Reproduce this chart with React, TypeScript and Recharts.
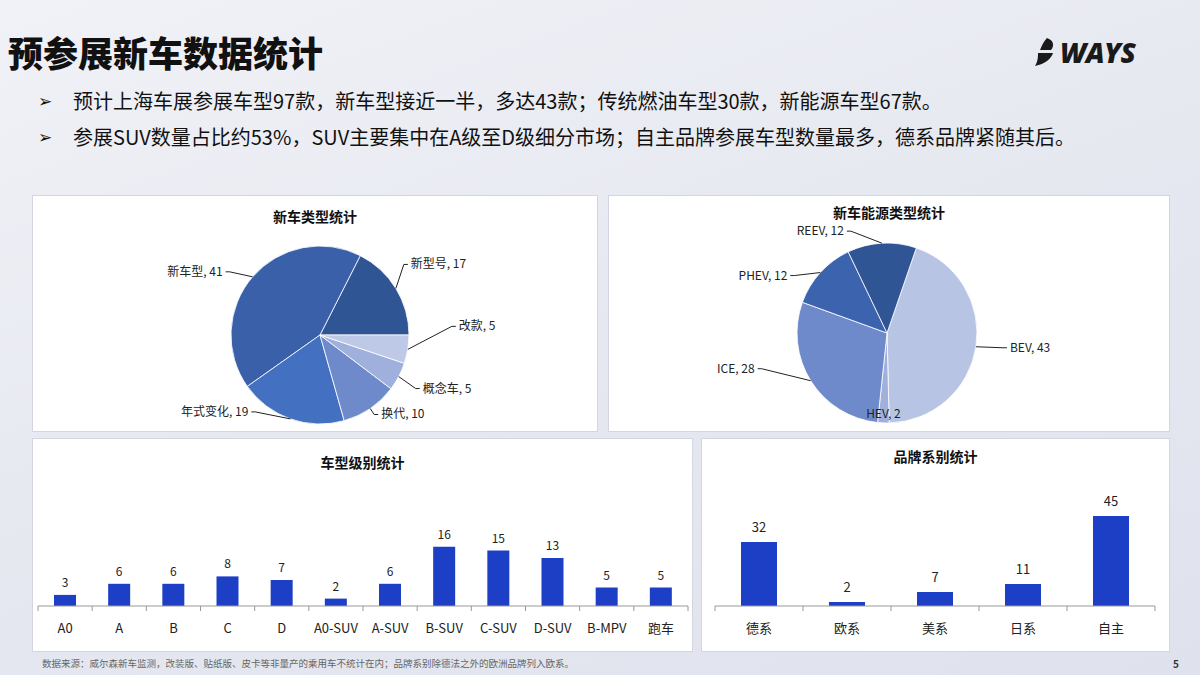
import React from 'react';
import { PieChart, Pie, Cell, BarChart, Bar, XAxis, YAxis, LabelList } from 'recharts';

// 新车类型
const typeNames = ['新型号', '新车型', '年式变化', '换代', '概念车', '改款'];
const typeValues = [17, 41, 19, 10, 5, 5];
// 能源类型
const energyNames = ['BEV', 'HEV', 'ICE', 'PHEV', 'REEV'];
const energyValues = [43, 2, 28, 12, 12];
// 车型级别
const levelNames = ['A0', 'A', 'B', 'C', 'D', 'A0-SUV', 'A-SUV', 'B-SUV', 'C-SUV', 'D-SUV', 'B-MPV', '跑车'];
const levelValues = [3, 6, 6, 8, 7, 2, 6, 16, 15, 13, 5, 5];
// 品牌系别
const brandNames = ['德系', '欧系', '美系', '日系', '自主'];
const brandValues = [32, 2, 7, 11, 45];

const typeColors = ['#2f5595', '#3a60a9', '#4470c2', '#6f8acb', '#9fb0dc', '#bec9e7'];
const energyColors = ['#b7c4e4', '#9fb0dc', '#6f8acb', '#3c63ae', '#2f5595'];
// label offsets from the arc midpoint (dx, dy); 0,0 = text inside, no leader
const typeLabelOff = [[8, -24], [-23, -5], [-35, -7], [4, 6], [17, 12], [44, -23]];
const energyLabelOff = [[27, 1], [0, 0], [-49, -12], [-26, 3], [-31, -12]];

const FONT = '"Noto Sans CJK SC", "Noto Sans", sans-serif';
const BAR = '#1c3fc6';
const RAD = Math.PI / 180;
const NO_MARGIN = { top: 0, right: 0, bottom: 0, left: 0 };

const typeData = typeNames.map((name, i) => ({ name, value: typeValues[i] }));
const energyData = energyNames.map((name, i) => ({ name, value: energyValues[i] }));
const levelData = levelNames.map((name, i) => ({ name, value: levelValues[i] }));
const brandData = brandNames.map((name, i) => ({ name, value: brandValues[i] }));

const makePieLabel = (offs: number[][]) => (p: any) => {
  const { cx, cy, midAngle, outerRadius, index, name, value } = p;
  const ax = cx + outerRadius * Math.cos(-midAngle * RAD);
  const ay = cy + outerRadius * Math.sin(-midAngle * RAD);
  const [dx, dy] = offs[index];
  const txt = `${name}, ${value}`;
  if (dx === 0 && dy === 0) {
    return (
      <text x={ax} y={ay - 5} textAnchor="middle" fontSize={12} fill="#222" fontFamily={FONT}>
        {txt}
      </text>
    );
  }
  const side = dx >= 0 ? 1 : -1;
  const ex = ax + dx;
  const ey = ay + dy;
  return (
    <g>
      <path d={`M${ax},${ay} L${ex},${ey} L${ex + side * 4},${ey}`} stroke="#222" strokeWidth={1} fill="none" />
      <text x={ex + side * 7} y={ey + 4} textAnchor={side > 0 ? 'start' : 'end'} fontSize={12} fill="#222" fontFamily={FONT}>
        {txt}
      </text>
    </g>
  );
};

const makeTick = (band: number, count: number) => (p: any) => {
  const { x, y, payload, index } = p;
  return (
    <g>
      <line x1={x - band / 2} y1={y} x2={x - band / 2} y2={y + 5} stroke="#999" />
      {index === count - 1 && <line x1={x + band / 2} y1={y} x2={x + band / 2} y2={y + 5} stroke="#999" />}
      <text x={x} y={y + 27} textAnchor="middle" fontSize={13} fill="#222" fontFamily={FONT}>
        {payload.value}
      </text>
    </g>
  );
};

const panel = (left: number, top: number, width: number, height: number): React.CSSProperties => ({
  position: 'absolute', left, top, width, height, background: '#fff',
  border: '1px solid #d3d6e0', boxSizing: 'border-box',
});

const chartTitle = (text: string, top: number): React.ReactNode => (
  <div style={{ position: 'absolute', left: 0, right: 0, top, textAlign: 'center', fontSize: 14, fontWeight: 700, color: '#111', fontFamily: FONT }}>
    {text}
  </div>
);

export default function App() {
  const w1 = 661, w2 = 469;
  const band1 = (w1 - 6 - 5) / levelNames.length;
  const band2 = (w2 - 14 - 15) / brandNames.length;
  return (
    <div style={{
      position: 'fixed', left: 0, top: 0, width: 1200, height: 675, overflow: 'hidden',
      background: 'linear-gradient(160deg, #f1f2f7 0%, #e7e9f1 45%, #dfe2ed 100%)', fontFamily: FONT,
    }}>
      <div style={{ position: 'absolute', left: 8, top: 26, fontSize: 35, fontWeight: 900, color: '#111' }}>
        预参展新车数据统计
      </div>
      <div style={{ position: 'absolute', left: 1032, top: 33, display: 'flex', alignItems: 'center' }}>
        <svg width={28} height={32}>
          <path d="M15,2 C21,4 23,9 19,14 L8,14 C10,9 12,5 15,2 Z" fill="#1a1a1a" />
          <path d="M6,17 L21,17 C19,23 13,28 3,30 C6,25 6,21 6,17 Z" fill="#1a1a1a" />
        </svg>
        <span style={{ fontSize: 28, fontWeight: 800, fontStyle: 'italic', color: '#1a1a1a', fontFamily: '"Open Sans", sans-serif', letterSpacing: -0.5 }}>
          WAYS
        </span>
      </div>
      {[
        { top: 86, text: '预计上海车展参展车型97款，新车型接近一半，多达43款；传统燃油车型30款，新能源车型67款。' },
        { top: 122, text: '参展SUV数量占比约53%，SUV主要集中在A级至D级细分市场；自主品牌参展车型数量最多，德系品牌紧随其后。' },
      ].map((b) => (
        <div key={b.top} style={{ position: 'absolute', left: 38, top: b.top, display: 'flex', alignItems: 'center', fontSize: 20, color: '#111' }}>
          <span style={{ fontSize: 17, width: 35, fontFamily: '"DejaVu Sans", sans-serif' }}>➢</span>
          <span>{b.text}</span>
        </div>
      ))}

      <div style={panel(32, 195, 566, 237)}>
        {chartTitle('新车类型统计', 10)}
        <div style={{ position: 'absolute', left: -1, top: -1 }}>
          <PieChart width={566} height={237} margin={NO_MARGIN}>
            <Pie data={typeData} dataKey="value" nameKey="name" cx={288} cy={140} outerRadius={89}
              startAngle={0} endAngle={360} stroke="#ffffff" strokeWidth={0.8}
              isAnimationActive={false} labelLine={false} label={makePieLabel(typeLabelOff)}>
              {typeData.map((d, i) => <Cell key={d.name} fill={typeColors[i]} />)}
            </Pie>
          </PieChart>
        </div>
      </div>

      <div style={panel(608, 195, 562, 237)}>
        {chartTitle('新车能源类型统计', 6)}
        <div style={{ position: 'absolute', left: -1, top: -1 }}>
          <PieChart width={562} height={237} margin={NO_MARGIN}>
            <Pie data={energyData} dataKey="value" nameKey="name" cx={279} cy={138} outerRadius={90}
              startAngle={71} endAngle={-289} stroke="#ffffff" strokeWidth={0.8}
              isAnimationActive={false} labelLine={false} label={makePieLabel(energyLabelOff)}>
              {energyData.map((d, i) => <Cell key={d.name} fill={energyColors[i]} />)}
            </Pie>
          </PieChart>
        </div>
      </div>

      <div style={panel(32, 438, w1, 214)}>
        {chartTitle('车型级别统计', 13)}
        <div style={{ position: 'absolute', left: -1, top: -1 }}>
          <BarChart width={w1} height={214} data={levelData} margin={{ top: 94, right: 5, bottom: 16, left: 6 }} barSize={22}>
            <YAxis hide domain={[0, 20]} />
            <XAxis dataKey="name" interval={0} height={30} tickSize={0} tickMargin={0} tickLine={false}
              axisLine={{ stroke: '#999' }} tick={makeTick(band1, levelNames.length)} />
            <Bar dataKey="value" fill={BAR} isAnimationActive={false}>
              <LabelList dataKey="value" position="top" offset={8} fontSize={12} fill="#222" fontFamily={FONT} />
            </Bar>
          </BarChart>
        </div>
      </div>

      <div style={panel(701, 438, w2, 214)}>
        {chartTitle('品牌系别统计', 7)}
        <div style={{ position: 'absolute', left: -1, top: -1 }}>
          <BarChart width={w2} height={214} data={brandData} margin={{ top: 68, right: 15, bottom: 16, left: 14 }} barSize={36}>
            <YAxis hide domain={[0, 50]} />
            <XAxis dataKey="name" interval={0} height={30} tickSize={0} tickMargin={0} tickLine={false}
              axisLine={{ stroke: '#999' }} tick={makeTick(band2, brandNames.length)} />
            <Bar dataKey="value" fill={BAR} isAnimationActive={false}>
              <LabelList dataKey="value" position="top" offset={10} fontSize={13} fill="#222" fontFamily={FONT} />
            </Bar>
          </BarChart>
        </div>
      </div>

      <div style={{ position: 'absolute', left: 42, top: 656, fontSize: 9.5, color: '#666' }}>
        数据来源：威尔森新车监测，改装版、贴纸版、皮卡等非量产的乘用车不统计在内；品牌系别除德法之外的欧洲品牌列入欧系。
      </div>
      <div style={{ position: 'absolute', left: 1173, top: 656, fontSize: 10, fontWeight: 700, color: '#333' }}>5</div>
    </div>
  );
}
